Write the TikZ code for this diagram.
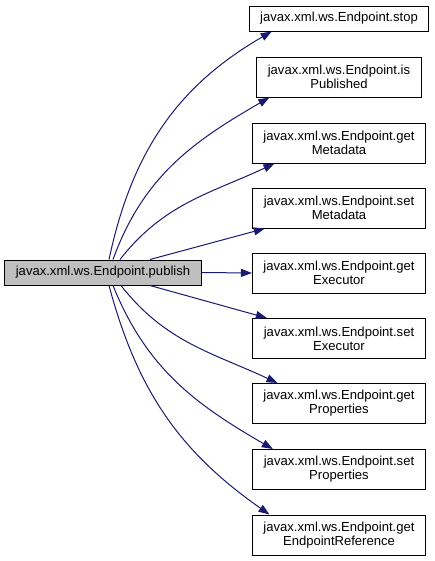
\documentclass[tikz,border=0pt]{standalone}
\usepackage{fontspec}
\setmainfont{Liberation Sans}
\usetikzlibrary{calc, arrows.meta}
\definecolor{edgeblue}{HTML}{191970}
\definecolor{callergray}{HTML}{BFBFBF}

\begin{document}
\begin{tikzpicture}[x=0.75pt, y=0.75pt,
  box/.style={draw=black, line width=0.75pt, fill=white, align=center,
    inner xsep=8.25pt, inner ysep=0pt, font=\fontsize{9.8}{10.5}\selectfont},
  onebox/.style={box, minimum height=18.75pt},
  twobox/.style={box, minimum height=30pt},
  call/.style={draw=edgeblue, line width=0.75pt, -{Triangle[length=8.25pt,width=6pt]}}]
  \useasboundingbox (0,0) rectangle (435,-561);

  % chiamante
  \node[onebox, fill=callergray] (publish) at (103,-272.5) {javax.xml.ws.Endpoint.publish};

  % chiamati
  \node[onebox] (stop) at (339,-18.5) {javax.xml.ws.Endpoint.stop};
  \node[twobox] (isPublished) at (339,-77) {javax.xml.ws.Endpoint.is\\Published};
  \node[twobox] (getMetadata) at (339,-143) {javax.xml.ws.Endpoint.get\\Metadata};
  \node[twobox] (setMetadata) at (339,-208) {javax.xml.ws.Endpoint.set\\Metadata};
  \node[twobox] (getExecutor) at (339,-273) {javax.xml.ws.Endpoint.get\\Executor};
  \node[twobox] (setExecutor) at (339,-338.5) {javax.xml.ws.Endpoint.set\\Executor};
  \node[twobox] (getProperties) at (339,-403.5) {javax.xml.ws.Endpoint.get\\Properties};
  \node[twobox] (setProperties) at (339,-469.5) {javax.xml.ws.Endpoint.set\\Properties};
  \node[twobox] (getEndpointReference) at (339,-535) {javax.xml.ws.Endpoint.get\\EndpointReference};

  % archi sopra
  \draw[call] ($(publish.north)+(6,0)$) to[out=78,in=210] ($(stop.south west)+(23,0)$);
  \draw[call] ($(publish.north)+(10,0)$) to[out=70,in=210] ($(isPublished.south west)+(13,0)$);
  \draw[call] ($(publish.north)+(17,0)$) to[out=52,in=205] ($(getMetadata.south west)+(22.5,0)$);
  \draw[call] ($(publish.north)+(47,0)$) -- ($(setMetadata.south west)+(12.5,0)$);

  % arco diritto
  \draw[call] (publish.east) -- (getExecutor.west);

  % archi sotto
  \draw[call] ($(publish.south)+(47,0)$) -- ($(setExecutor.north west)+(14.5,0)$);
  \draw[call] ($(publish.south)+(18,0)$) to[out=-52,in=155] ($(getProperties.north west)+(25.5,0)$);
  \draw[call] ($(publish.south)+(10,0)$) to[out=-68,in=150] ($(setProperties.north west)+(20.5,0)$);
  \draw[call] ($(publish.south)+(6,0)$) to[out=-75,in=145] ($(getEndpointReference.north west)+(17.5,0)$);
\end{tikzpicture}
\end{document}
